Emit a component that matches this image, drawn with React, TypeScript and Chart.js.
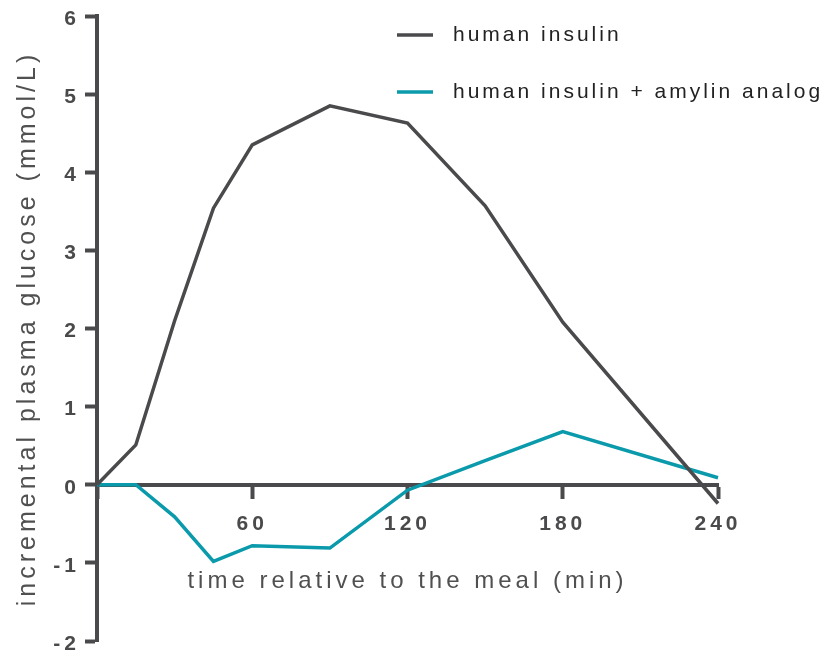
import React, { useEffect, useRef } from "react";
import { Chart, registerables } from "chart.js";

Chart.register(...registerables);

const times = [0, 15, 30, 45, 60, 90, 120, 150, 180, 240];
const humanInsulin = [0, 0.51, 2.1, 3.54, 4.35, 4.85, 4.63, 3.57, 2.08, -0.24];
const insulinAmylin = [0, 0, -0.41, -0.98, -0.78, -0.81, -0.07, 0.31, 0.68, 0.09];
const seriesLabels = ["human insulin", "human insulin + amylin analog"];
const xTicks = [60, 120, 180, 240];

const GRAY = "#4a4a4c";
const TEAL = "#0a9aab";
const FONT = "'Liberation Sans', Arial, sans-serif";

const spacingPlugin = {
  id: "spacing",
  beforeLayout(chart: any) {
    chart.ctx.letterSpacing = "4px";
  },
  beforeDraw(chart: any) {
    chart.ctx.letterSpacing = "4px";
  },
};

const legendPlugin = {
  id: "customLegend",
  afterDraw(chart: any) {
    const ctx = chart.ctx;
    ctx.save();
    ctx.letterSpacing = "3px";
    ctx.font = `21px ${FONT}`;
    ctx.textBaseline = "middle";
    ctx.textAlign = "left";
    const x0 = 397;
    const rows = [35, 92];
    chart.data.datasets.forEach((ds: any, i: number) => {
      const y = rows[i];
      ctx.strokeStyle = ds.borderColor;
      ctx.lineWidth = 3.5;
      ctx.beginPath();
      ctx.moveTo(x0, y);
      ctx.lineTo(x0 + 36, y);
      ctx.stroke();
      ctx.fillStyle = "#222";
      ctx.fillText(ds.label, x0 + 56, y);
    });
    ctx.restore();
  },
};

export default function App() {
  const ref = useRef<HTMLCanvasElement | null>(null);
  useEffect(() => {
    if (!ref.current) return;
    const toPts = (ys: number[]) => times.map((t, i) => ({ x: t, y: ys[i] }));
    const chart = new Chart(ref.current, {
      type: "line",
      data: {
        datasets: [
          {
            label: seriesLabels[0],
            data: toPts(humanInsulin),
            borderColor: GRAY,
            borderWidth: 3.5,
            pointRadius: 0,
            tension: 0,
            clip: false as any,
          },
          {
            label: seriesLabels[1],
            data: toPts(insulinAmylin),
            borderColor: TEAL,
            borderWidth: 3.5,
            pointRadius: 0,
            tension: 0,
            clip: false as any,
          },
        ],
      },
      options: {
        responsive: false,
        animation: false,
        layout: { padding: { top: 16, bottom: 13, left: 0, right: 105 } },
        plugins: { legend: { display: false }, tooltip: { enabled: false } },
        scales: {
          x: {
            type: "linear",
            min: 0,
            max: 240,
            position: { y: 0 } as any,
            afterBuildTicks: (s: any) => {
              s.ticks = [0, ...xTicks].map((v) => ({ value: v }));
            },
            afterFit: (s: any) => {
              s.paddingLeft = 0;
              s.paddingRight = 0;
              s.paddingTop = 0;
              s.paddingBottom = 0;
            },
            ticks: {
              callback: (v: any) => (v === 0 ? "" : String(v)),
              font: { family: FONT, size: 21, weight: "bold" },
              color: GRAY,
              padding: 15,
              maxRotation: 0,
            },
            grid: {
              drawOnChartArea: false,
              drawTicks: true,
              tickLength: 12,
              tickWidth: 4,
              tickColor: GRAY,
            } as any,
            border: { display: true, width: 4, color: GRAY },
            title: {
              display: true,
              text: "time relative to the meal (min)",
              font: { family: FONT, size: 24 },
              color: "#505050",
              padding: { top: 15, bottom: 0 },
            },
          },
          y: {
            type: "linear",
            min: -2,
            max: 6,
            afterFit: (s: any) => {
              s.width = 97;
              s.paddingLeft = 0;
              s.paddingRight = 0;
              s.paddingTop = 0;
              s.paddingBottom = 0;
            },
            ticks: {
              stepSize: 1,
              font: { family: FONT, size: 21, weight: "bold" },
              color: GRAY,
              padding: 5,
              labelOffset: 3,
            },
            grid: {
              drawOnChartArea: false,
              drawTicks: true,
              tickLength: 12,
              tickWidth: 4,
              tickColor: GRAY,
            } as any,
            border: { display: true, width: 4, color: GRAY },
            title: {
              display: true,
              text: "incremental plasma glucose (mmol/L)",
              font: { family: FONT, size: 25 },
              color: "#505050",
              padding: { top: 13, bottom: 0 },
            },
          },
        },
      },
      plugins: [spacingPlugin, legendPlugin],
    });
    return () => chart.destroy();
  }, []);
  return (
    <div style={{ position: "fixed", left: 0, top: 0, width: 823, height: 654, background: "#fff" }}>
      <canvas ref={ref} width={823} height={654} />
    </div>
  );
}
